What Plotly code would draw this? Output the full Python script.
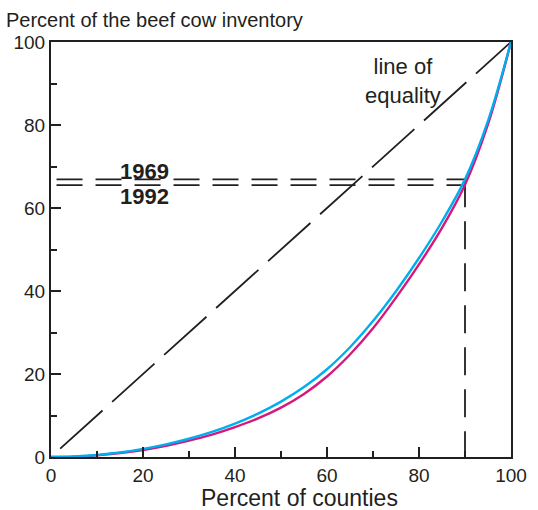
import plotly.graph_objects as go

# Data
pct_counties = [0, 5, 10, 15, 20, 25, 30, 35, 40, 45, 50, 55, 60, 65, 70, 75, 80, 85, 90, 95, 100]
inv_1969 = [0, 0.15, 0.5, 1.1, 1.95, 3.05, 4.4, 6.05, 8.05, 10.45, 13.35, 16.85, 21.15, 26.45, 32.75, 39.95, 47.95, 56.75, 66.9, 81.0, 100]
inv_1992 = [0, 0.1, 0.4, 0.95, 1.7, 2.7, 3.95, 5.4, 7.2, 9.3, 11.9, 15.2, 19.4, 24.7, 31.0, 38.4, 46.4, 55.2, 65.6, 80.2, 100]
equality_x = [2, 100]
equality_y = [2, 100]
marker_x = 90
level_1969 = 66.9
level_1992 = 65.5
guide_start = 1.2

ink = "#231f20"
FONT = "Liberation Sans, Arial"
fig = go.Figure()

# line of equality
fig.add_trace(go.Scatter(x=equality_x, y=equality_y, mode="lines",
                         line=dict(color=ink, width=1.8, dash="57px,13px"),
                         hoverinfo="skip", showlegend=False))
# guide lines
fig.add_trace(go.Scatter(x=[guide_start, marker_x], y=[level_1969, level_1969], mode="lines",
                         line=dict(color=ink, width=1.8, dash="26px,13px"),
                         hoverinfo="skip", showlegend=False))
fig.add_trace(go.Scatter(x=[guide_start, marker_x], y=[level_1992, level_1992], mode="lines",
                         line=dict(color=ink, width=1.8, dash="26px,13px"),
                         hoverinfo="skip", showlegend=False))
fig.add_trace(go.Scatter(x=[marker_x, marker_x], y=[level_1969, 0], mode="lines",
                         line=dict(color=ink, width=1.8, dash="28px,14px"),
                         hoverinfo="skip", showlegend=False))
# Lorenz curves
fig.add_trace(go.Scatter(x=pct_counties, y=inv_1992, mode="lines", name="1992",
                         line=dict(color="#d4187c", width=2.4, shape="spline", smoothing=1),
                         showlegend=False))
fig.add_trace(go.Scatter(x=pct_counties, y=inv_1969, mode="lines", name="1969",
                         line=dict(color="#00aeef", width=2.4, shape="spline", smoothing=1),
                         showlegend=False))

axis_common = dict(showgrid=False, zeroline=False, showline=True, linecolor=ink, linewidth=2,
                   mirror=True, ticks="inside", ticklen=10, tickwidth=1.5, tickcolor=ink,
                   tickfont=dict(family=FONT, size=19, color=ink),
                   minor=dict(ticks="inside", ticklen=6, tickwidth=1.5, tickcolor=ink, dtick=10))

fig.update_xaxes(range=[0, 100], tickvals=[0, 20, 40, 60, 80, 100], ticklabelstandoff=0, **axis_common)
fig.update_yaxes(range=[0, 100], tickvals=[0, 20, 40, 60, 80, 100], **axis_common)

fnt = dict(family=FONT, size=22, color=ink)
fig.update_layout(
    width=538, height=510,
    margin=dict(l=51, r=27, t=42, b=53),
    plot_bgcolor="white", paper_bgcolor="white",
    showlegend=False,
    annotations=[
        dict(text="Percent of the beef cow inventory", xref="paper", yref="paper",
             x=-(51 - 4) / 460, y=(457 - 20) / 415, xanchor="left", yanchor="middle",
             showarrow=False, font=dict(family=FONT, size=20, color=ink)),
        dict(text="Percent of counties", xref="paper", yref="paper",
             x=(299 - 51) / 460, y=-(497.5 - 457) / 415, xanchor="center", yanchor="middle",
             showarrow=False, borderpad=0, font=dict(family=FONT, size=23, color=ink)),
        dict(text="line of<br>equality", x=76.5, y=90.5, xanchor="center", yanchor="middle",
             showarrow=False, font=fnt, align="center"),
        dict(text="<b>1969</b>", x=20.4, y=68.8, xanchor="center", yanchor="middle",
             showarrow=False, font=fnt),
        dict(text="<b>1992</b>", x=20.4, y=62.8, xanchor="center", yanchor="middle",
             showarrow=False, font=fnt),
    ],
)

fig.write_html("out.html", config={"displayModeBar": False},
               post_script="document.body.style.margin='0';document.body.style.overflow='hidden';")
